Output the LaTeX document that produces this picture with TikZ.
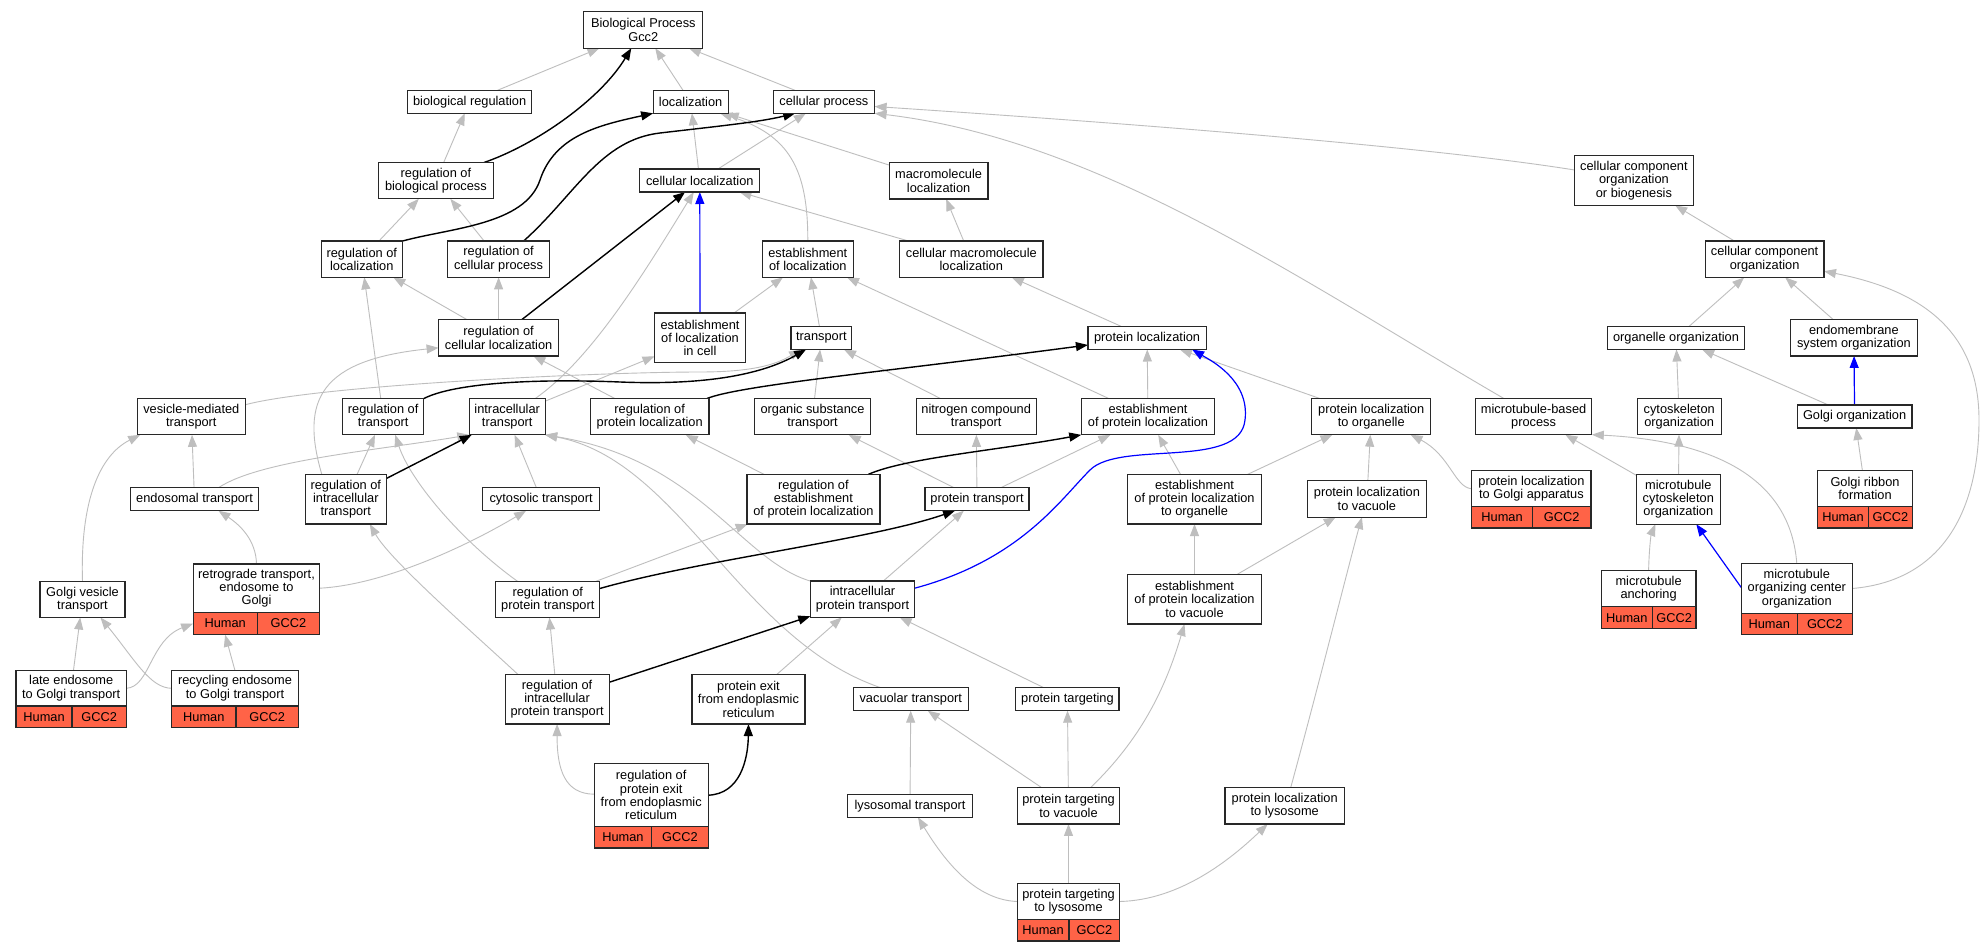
\documentclass[tikz,border=0pt]{standalone}
\usepackage{fontspec}
\setmainfont{Liberation Sans}
\usetikzlibrary{arrows.meta}
\definecolor{eg}{RGB}{190,190,190}
\definecolor{tomatored}{RGB}{255,99,71}
\definecolor{bord}{RGB}{40,40,40}
\pgfdeclarelayer{back}
\pgfdeclarelayer{bg}
\pgfsetlayers{back,bg,main}
\newcommand{\GeneRow}[4]{%
  \node[gene, minimum width=#2pt, minimum height=#4pt, anchor=north west] (#1H) at (#1.south west) {Human};
  \node[gene, minimum width=#3pt, minimum height=#4pt, anchor=north west] (#1G) at (#1H.north east) {GCC2};}
\tikzset{
  box/.style={draw=bord, line width=1.2pt, fill=white, inner sep=0pt, outer sep=0pt, align=center,
    font=\fontsize{12.8}{13.3}\selectfont},
  gene/.style={draw=bord, line width=1.2pt, fill=tomatored, inner sep=0pt, outer sep=0pt,
    font=\fontsize{12.8}{13.3}\selectfont},
  ge/.style={draw=eg, line width=0.9pt, -{Triangle[length=12pt,width=9pt]}},
  be/.style={draw=black, line width=1.4pt, -{Triangle[length=12pt,width=9pt]}},
  ue/.style={draw=blue, line width=1.2pt, -{Triangle[length=12pt,width=9pt]}},
}
\begin{document}
\begin{tikzpicture}[x=1pt,y=-1pt]
\begin{pgfonlayer}{back}
\fill[white] (0,0) rectangle (1987,952);
\end{pgfonlayer}
\useasboundingbox (0,0) rectangle (1987,952);

% ---- nodes ----
\node[box, minimum width=119pt, minimum height=36.3pt] (BP) at (643.3,30) {Biological Process\\Gcc2};
\node[box, minimum width=123.7pt, minimum height=23pt] (bioreg) at (469.7,101.8) {biological regulation};
\node[box, minimum width=75pt, minimum height=23pt] (localization) at (690.6,101.8) {localization};
\node[box, minimum width=101.4pt, minimum height=23pt] (cp) at (823.9,101.8) {cellular process};
\node[box, minimum width=115pt, minimum height=36.3pt] (regbp) at (435.9,180.7) {regulation of\\biological process};
\node[box, minimum width=120.1pt, minimum height=23pt] (cellloc) at (699.8,180.5) {cellular localization};
\node[box, minimum width=98.6pt, minimum height=36.3pt] (macro) at (938.6,180.8) {macromolecule\\localization};
\node[box, minimum width=118.7pt, minimum height=49.7pt] (ccob) at (1633.9,180.5) {cellular component\\organization\\or biogenesis};
\node[box, minimum width=81.2pt, minimum height=36.3pt] (regloc) at (361.8,259.2) {regulation of\\localization};
\node[box, minimum width=101.5pt, minimum height=36.3pt] (regcp) at (498.6,259.2) {regulation of\\cellular process};
\node[box, minimum width=90.6pt, minimum height=36.3pt] (estloc) at (807.8,259.2) {establishment\\of localization};
\node[box, minimum width=143.3pt, minimum height=36.3pt] (cmloc) at (971.3,259.2) {cellular macromolecule\\localization};
\node[box, minimum width=118.7pt, minimum height=36.3pt] (cco) at (1764.6,259.2) {cellular component\\organization};
\node[box, minimum width=120pt, minimum height=36.3pt] (regcloc) at (498.6,337.8) {regulation of\\cellular localization};
\node[box, minimum width=91pt, minimum height=49.7pt] (estlocc) at (700,337.8) {establishment\\of localization\\in cell};
\node[box, minimum width=60.7pt, minimum height=23pt] (transport) at (821.4,338) {transport};
\node[box, minimum width=118.4pt, minimum height=23pt] (protloc) at (1147.1,338) {protein localization};
\node[box, minimum width=136.5pt, minimum height=23pt] (orgorg) at (1676,338) {organelle organization};
\node[box, minimum width=126.7pt, minimum height=36.3pt] (endomem) at (1853.9,337.8) {endomembrane\\system organization};
\node[box, minimum width=108.2pt, minimum height=36.3pt] (vmt) at (191.3,416.7) {vesicle-mediated\\transport};
\node[box, minimum width=81.3pt, minimum height=36.3pt] (regtr) at (383.2,416.7) {regulation of\\transport};
\node[box, minimum width=75.8pt, minimum height=36.3pt] (itr) at (507.2,416.7) {intracellular\\transport};
\node[box, minimum width=118.4pt, minimum height=36.3pt] (regploc) at (649.7,416.7) {regulation of\\protein localization};
\node[box, minimum width=116pt, minimum height=36.3pt] (orgst) at (812.5,416.7) {organic substance\\transport};
\node[box, minimum width=120pt, minimum height=36.3pt] (ncomp) at (976.2,416.7) {nitrogen compound\\transport};
\node[box, minimum width=133.5pt, minimum height=36.3pt] (estploc) at (1148,416.7) {establishment\\of protein localization};
\node[box, minimum width=118.7pt, minimum height=36.3pt] (plo) at (1371.2,416.5) {protein localization\\to organelle};
\node[box, minimum width=116.4pt, minimum height=36.3pt] (mtbp) at (1533.6,416.5) {microtubule-based\\process};
\node[box, minimum width=84pt, minimum height=36.3pt] (cytorg) at (1679.2,416.5) {cytoskeleton\\organization};
\node[box, minimum width=114.7pt, minimum height=23pt] (golgiorg) at (1854.6,416.5) {Golgi organization};
\node[box, minimum width=128pt, minimum height=23pt] (endo) at (194.5,499.2) {endosomal transport};
\node[box, minimum width=81.2pt, minimum height=49.7pt] (regitr) at (345.8,499.2) {regulation of\\intracellular\\transport};
\node[box, minimum width=117.4pt, minimum height=23pt] (cyto) at (541.1,499.2) {cytosolic transport};
\node[box, minimum width=133pt, minimum height=49.7pt] (regestp) at (813.4,499.2) {regulation of\\establishment\\of protein localization};
\node[box, minimum width=104pt, minimum height=23pt] (ptrans) at (977,499.2) {protein transport};
\node[box, minimum width=133.5pt, minimum height=49.7pt] (estpo) at (1194.5,499.2) {establishment\\of protein localization\\to organelle};
\node[box, minimum width=119.2pt, minimum height=36.3pt] (plv) at (1366.9,499) {protein localization\\to vacuole};
\node[box, minimum width=119.2pt, minimum height=36pt] (plga) at (1531.4,488.7) {protein localization\\to Golgi apparatus};
\GeneRow{plga}{60.5}{58.7}{21.3}
\node[box, minimum width=84pt, minimum height=49.7pt] (mco) at (1678.3,499.3) {microtubule\\cytoskeleton\\organization};
\node[box, minimum width=94.7pt, minimum height=36pt] (grf) at (1865,488.7) {Golgi ribbon\\formation};
\GeneRow{grf}{50.7}{44}{21.3}
\node[box, minimum width=85pt, minimum height=36pt] (gvt) at (82.5,599.5) {Golgi vesicle\\transport};
\node[box, minimum width=126.7pt, minimum height=48.3pt] (retro) at (256.5,588.2) {retrograde transport,\\endosome to\\Golgi};
\GeneRow{retro}{64}{62.7}{22.4}
\node[box, minimum width=104pt, minimum height=36pt] (regptr) at (547.8,599.5) {regulation of\\protein transport};
\node[box, minimum width=104.4pt, minimum height=36.3pt] (iptrans) at (862.5,599.2) {intracellular\\protein transport};
\node[box, minimum width=133.5pt, minimum height=49.7pt] (estpv) at (1194.5,599.2) {establishment\\of protein localization\\to vacuole};
\node[box, minimum width=94.7pt, minimum height=36pt] (mta) at (1648.6,588.7) {microtubule\\anchoring};
\GeneRow{mta}{51.1}{43.6}{22}
\node[box, minimum width=111.1pt, minimum height=49.6pt] (mtoc) at (1796.8,588.5) {microtubule\\organizing center\\organization};
\GeneRow{mtoc}{56}{55.1}{21.4}
\node[box, minimum width=110.3pt, minimum height=35.3pt] (late) at (71.2,688.3) {late endosome\\to Golgi transport};
\GeneRow{late}{56}{54.3}{21.7}
\node[box, minimum width=126.7pt, minimum height=35.3pt] (recyc) at (235,688.3) {recycling endosome\\to Golgi transport};
\GeneRow{recyc}{64.4}{62.3}{21.7}
\node[box, minimum width=104pt, minimum height=49.5pt] (regiptr) at (557.1,699.3) {regulation of\\intracellular\\protein transport};
\node[box, minimum width=113.1pt, minimum height=49.5pt] (pexit) at (748.5,699.3) {protein exit\\from endoplasmic\\reticulum};
\node[box, minimum width=115pt, minimum height=23pt] (vact) at (910.8,699.2) {vacuolar transport};
\node[box, minimum width=103.3pt, minimum height=23pt] (ptarg) at (1067.4,699.2) {protein targeting};
\node[box, minimum width=113.9pt, minimum height=63pt] (regpexit) at (651.2,795.2) {regulation of\\protein exit\\from endoplasmic\\reticulum};
\GeneRow{regpexit}{57.3}{56.6}{21.3}
\node[box, minimum width=124.6pt, minimum height=23pt] (lyst) at (910,805.8) {lysosomal transport};
\node[box, minimum width=102.6pt, minimum height=36.3pt] (ptv) at (1068.5,805.8) {protein targeting\\to vacuole};
\node[box, minimum width=119.4pt, minimum height=36.3pt] (ptll) at (1284.7,805.8) {protein localization\\to lysosome};
\node[box, minimum width=102.6pt, minimum height=35.6pt] (ptl) at (1068.5,901.5) {protein targeting\\to lysosome};
\GeneRow{ptl}{51.7}{50.9}{21.7}

% ---- edges ----
\begin{pgfonlayer}{bg}
% straight gray
\draw[ge] (bioreg) -- (BP);
\draw[ge] (localization) -- (BP);
\draw[ge] (cp) -- (BP);
\draw[ge] (regbp) -- (bioreg);
\draw[ge] (cellloc) -- (localization);
\draw[ge] (cellloc) -- (cp);
\draw[ge] (macro) -- (localization);
\draw[ge] (regloc) -- (regbp);
\draw[ge] (regcp) -- (regbp);
\draw[ge] (cmloc) -- (macro);
\draw[ge] (cmloc) -- (cellloc);
\draw[ge] (estlocc) -- (estloc);
\draw[ge] (transport) -- (estloc);
\draw[ge] (estploc) -- (estloc);
\draw[ge] (protloc) -- (cmloc);
\draw[ge] (cco) -- (ccob);
\draw[ge] (orgorg) -- (cco);
\draw[ge] (endomem) -- (cco);
\draw[ge] (regtr) -- (regloc);
\draw[ge] (regcloc) -- (regloc);
\draw[ge] (regcloc) -- (regcp);
\draw[ge] (regploc) -- (regcloc);
\draw[ge] (itr) -- (estlocc);
\draw[ge] (orgst) -- (transport);
\draw[ge] (ncomp) -- (transport);
\draw[ge] (estploc) -- (protloc);
\draw[ge] (plo) -- (protloc);
\draw[ge] (regestp) -- (regploc);
\draw[ge] (ptrans) -- (orgst);
\draw[ge] (ptrans) -- (ncomp);
\draw[ge] (ptrans) -- (estploc);
\draw[ge] (estpo) -- (estploc);
\draw[ge] (endo) -- (vmt);
\draw[ge] (regitr) -- (regtr);
\draw[ge] (cyto) -- (itr);
\draw[ge] (iptrans) -- (ptrans);
\draw[ge] (regptr) -- (regestp);
\draw[ge] (regiptr) -- (regptr);
\draw[ge] (pexit) -- (iptrans);
\draw[ge] (ptarg) -- (iptrans);
\draw[ge] (lyst) -- (vact);
\draw[ge] (ptv) -- (vact);
\draw[ge] (ptv) -- (ptarg);
\draw[ge] (ptl) -- (ptv);
\draw[ge] (estpv) -- (estpo);
\draw[ge] (estpv) -- (plv);
\draw[ge] (plv) -- (plo);
\draw[ge] (estpo) -- (plo);
\draw[ge] (mco) -- (mtbp);
\draw[ge] (mco) -- (cytorg);
\draw[ge] (cytorg) -- (orgorg);
\draw[ge] (golgiorg) -- (orgorg);
\draw[ge] (grf) -- (golgiorg);
\draw[ge] (late) -- (gvt);
\draw[ge] (recyc.north) -- (retroH.south);
% curved gray
\draw[ge] (estloc.north) .. controls (808,170) and (790,135) .. ([xshift=-8pt]localization.south east);
\draw[ge] ([xshift=-30pt]mtbp.north) .. controls (1300,280) and (1100,140) .. (cp.south east);
\draw[ge] ([yshift=10.5pt]ccob.west) .. controls (1450,150) and (1200,128) .. ([yshift=-4.7pt]cp.east);
\draw[ge] (mtoc.east) .. controls (1950,580) and (1979,500) .. (1979,420) .. controls (1979,330) and (1920,290) .. ([yshift=-12pt]cco.east);
\draw[ge] ([xshift=28pt]itr.north) .. controls (590,360) and (640,280) .. ([xshift=-6pt]cellloc.south);
\draw[ge] ([xshift=-24pt]regitr.north) .. controls (300,400) and (320,360) .. ([yshift=-10pt]regcloc.west);
\draw[ge] ([yshift=12pt]vmt.east) .. controls (320,385) and (600,372) .. (700,372) .. controls (760,372) and (780,362) .. ([xshift=10pt]transport.south west);
\draw[ge] (gvt.north) .. controls (80,500) and (100,455) .. ([xshift=3pt]vmt.south west);
\draw[ge] ([xshift=-30pt]regptr.north) .. controls (460,540) and (410,480) .. ([xshift=12pt]regtr.south);
\draw[ge] ([xshift=24pt]endo.north) .. controls (260,460) and (380,450) .. (itr.south west);
\draw[ge] (iptrans.north west) .. controls (740,560) and (700,460) .. (itr.south east);
\draw[ge] ([xshift=-30pt]vact.north) .. controls (740,640) and (680,460) .. (itr.south east);
\draw[ge] (retro.east) .. controls (380,585) and (460,550) .. ([xshift=-15pt]cyto.south);
\draw[ge] (retro.north) .. controls (256,540) and (240,525) .. ([xshift=24pt]endo.south);
\draw[ge] ([xshift=-39pt]regiptr.north) .. controls (470,630) and (390,560) .. ([xshift=24pt]regitr.south);
\draw[ge] (ptl.west) .. controls (980,900) and (950,870) .. ([xshift=8pt]lyst.south);
\draw[ge] (ptl.east) .. controls (1180,900) and (1230,860) .. ([xshift=-17pt]ptll.south);
\draw[ge] ([xshift=22pt]ptv.north) .. controls (1140,740) and (1165,690) .. ([xshift=-10pt]estpv.south);
\draw[ge] (plga.west) .. controls (1455,488) and (1450,455) .. ([xshift=-20pt]plo.south east);
\draw[ge] (mtoc.north) .. controls (1790,470) and (1700,440) .. (mtbp.south east);
\draw[ge] ([yshift=1pt]regpexit.west) .. controls (565,794) and (557,770) .. (regiptr.south);
\draw[ge] (recyc.west) .. controls (150,688) and (135,660) .. ([xshift=18pt]gvt.south);
\draw[ge] (late.east) .. controls (150,687) and (150,640) .. (retroH.west);
\draw[ge] ([xshift=6pt]ptll.north) .. controls (1320,680) and (1350,560) .. ([xshift=-5pt]plv.south);
\draw[ge] (mta.north) .. controls (1649,550) and (1651,535) .. ([xshift=-23pt]mco.south);
% black
\draw[be] ([xshift=48pt]regbp.north) .. controls (535,145) and (600,100) .. ([xshift=-12pt]BP.south);
\draw[be] (regloc.north east) .. controls (450,228) and (525,225) .. (540,180) .. controls (555,135) and (600,125) .. (localization.south west);
\draw[be] ([xshift=25pt]regcp.north) .. controls (575,195) and (600,140) .. (660,133) .. controls (720,126) and (760,122) .. ([xshift=22pt]cp.south west);
\draw[be] (regcloc) -- (cellloc);
\draw[be] (regtr.north east) .. controls (450,385) and (520,378) .. (620,382) .. controls (720,386) and (770,370) .. ([xshift=15pt]transport.south west);
\draw[be] ([xshift=-2pt]regploc.north east) .. controls (740,385) and (900,370) .. ([yshift=-7pt]protloc.west);
\draw[be] ([xshift=55pt]regestp.north) .. controls (905,458) and (1000,450) .. (estploc.south west);
\draw[be] (regitr) -- (itr);
\draw[be] ([yshift=11pt]regptr.east) .. controls (700,560) and (870,540) .. ([xshift=-22pt]ptrans.south);
\draw[be] (regiptr) -- (iptrans);
\draw[be] (regpexit.east) .. controls (740,794) and (748,760) .. (pexit.south);
% blue
\draw[ue] (estlocc) -- (cellloc);
\draw[ue] (golgiorg) -- (endomem);
\draw[ue] ([yshift=1pt]mtoc.west) -- ([xshift=18pt]mco.south);
\draw[ue] ([yshift=11pt]iptrans.east) .. controls (1020,560) and (1060,500) .. (1090,470) .. controls (1120,440) and (1240,470) .. (1245,420) .. controls (1250,380) and (1210,360) .. ([xshift=45pt]protloc.south);
\end{pgfonlayer}
\end{tikzpicture}
\end{document}
